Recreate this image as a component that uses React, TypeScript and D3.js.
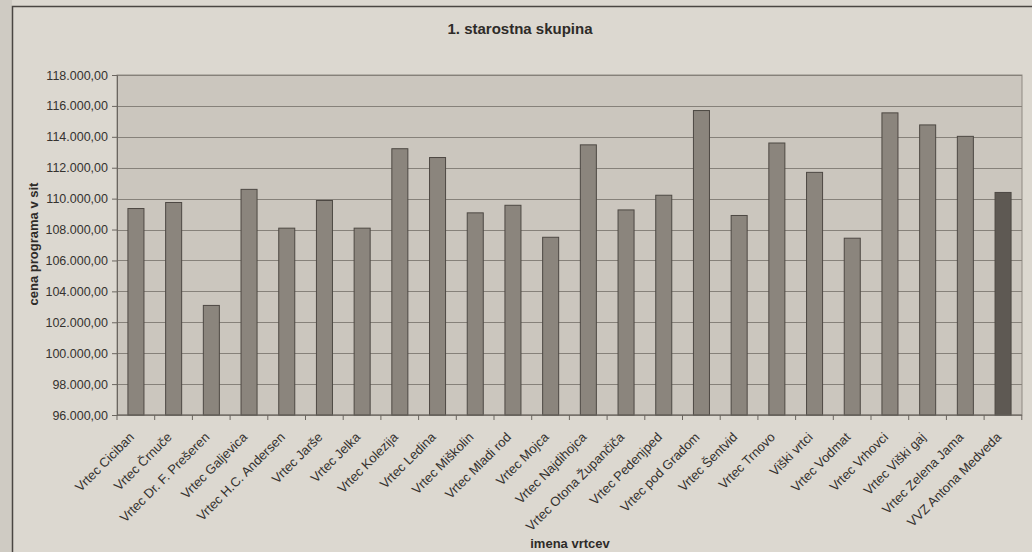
import React, { useEffect, useRef } from "react";
import * as d3 from "d3";

const vrtci = [
  "Vrtec Ciciban",
  "Vrtec Črnuče",
  "Vrtec Dr. F. Prešeren",
  "Vrtec Galjevica",
  "Vrtec H.C. Andersen",
  "Vrtec Jarše",
  "Vrtec Jelka",
  "Vrtec Kolezija",
  "Vrtec Ledina",
  "Vrtec Miškolin",
  "Vrtec Mladi rod",
  "Vrtec Mojca",
  "Vrtec Najdihojca",
  "Vrtec Otona Župančiča",
  "Vrtec Pedenjped",
  "Vrtec pod Gradom",
  "Vrtec Šentvid",
  "Vrtec Trnovo",
  "Viški vrtci",
  "Vrtec Vodmat",
  "Vrtec Vrhovci",
  "Vrtec Viški gaj",
  "Vrtec Zelena Jama",
  "VVZ Antona Medveda",
];

const cene = [
  109360, 109750, 103090, 110600, 108090, 109880, 108090, 113230, 112660,
  109080, 109570, 107500, 113480, 109270, 110220, 115700, 108910, 113600,
  111700, 107440, 115550, 114770, 114030, 110400,
];

const yTicks = [
  96000, 98000, 100000, 102000, 104000, 106000, 108000, 110000, 112000,
  114000, 116000, 118000,
];

const App = () => {
  const ref = useRef(null);

  useEffect(() => {
    const W = 1032;
    const H = 552;
    const margin = { top: 75, right: 10, bottom: 137, left: 117 };
    const width = W - margin.left - margin.right;
    const height = H - margin.top - margin.bottom;
    const font = "'Liberation Sans', Arial, sans-serif";

    const svg = d3.select(ref.current).attr("width", W).attr("height", H);
    svg.selectAll("*").remove();

    // paper + outer frame
    svg.append("rect").attr("width", W).attr("height", H).attr("fill", "#dcd8d0");
    svg.append("rect").attr("width", 12).attr("height", H).attr("fill", "#cfcbc3");
    svg.append("rect")
      .attr("x", 12.5)
      .attr("y", 6.5)
      .attr("width", W + 20)
      .attr("height", H + 20)
      .attr("fill", "none")
      .attr("stroke", "#4a4642")
      .attr("stroke-width", 1.5);

    const loc = d3.formatLocale({ decimal: ",", thousands: ".", grouping: [3], currency: ["", ""] });
    const fmt = loc.format(",.2f");

    const g = svg.append("g").attr("transform", `translate(${margin.left}, ${margin.top})`);

    const xScale = d3.scaleBand().range([0, width]).domain(vrtci).paddingInner(0.575).paddingOuter(0.29);
    const yScale = d3.scaleLinear().range([height, 0]).domain([96000, 118000]);

    g.append("rect")
      .attr("width", width)
      .attr("height", height)
      .attr("fill", "#cbc6be")
      .attr("stroke", "#8e8982");

    g.selectAll(".grid")
      .data(yTicks)
      .enter()
      .append("line")
      .attr("x1", 0)
      .attr("x2", width)
      .attr("y1", d => Math.round(yScale(d)) + 0.5)
      .attr("y2", d => Math.round(yScale(d)) + 0.5)
      .attr("stroke", "#86817a")
      .attr("stroke-width", 1);

    g.selectAll(".bar")
      .data(cene)
      .enter()
      .append("rect")
      .attr("x", (d, i) => xScale(vrtci[i]))
      .attr("y", d => yScale(d))
      .attr("width", xScale.bandwidth())
      .attr("height", d => height - yScale(d))
      .attr("fill", (d, i) => (i === cene.length - 1 ? "#5e5953" : "#8b857d"))
      .attr("stroke", "#4d4843")
      .attr("stroke-width", 1);

    // y axis
    const yAxis = g.append("g")
      .call(d3.axisLeft(yScale).tickValues(yTicks).tickFormat(d => fmt(d)).tickSize(5).tickPadding(4));
    yAxis.select(".domain").attr("stroke", "#6b6660");
    yAxis.selectAll(".tick line").attr("stroke", "#6b6660");
    yAxis.selectAll("text")
      .attr("font-family", font)
      .attr("font-size", 12.5)
      .attr("fill", "#35322f");

    // x axis
    const step = xScale.step();
    const xAxis = g.append("g").attr("transform", `translate(0, ${height})`);
    xAxis.append("line").attr("x1", 0).attr("x2", width).attr("stroke", "#6b6660");
    xAxis.selectAll(".tk")
      .data(d3.range(vrtci.length + 1))
      .enter()
      .append("line")
      .attr("x1", i => i * step)
      .attr("x2", i => i * step)
      .attr("y1", 0)
      .attr("y2", 5)
      .attr("stroke", "#6b6660");
    xAxis.selectAll(".lbl")
      .data(vrtci)
      .enter()
      .append("text")
      .attr("transform", d => `translate(${xScale(d) + xScale.bandwidth() / 2 - 1}, 23) rotate(-45)`)
      .attr("text-anchor", "end")
      .attr("font-family", font)
      .attr("font-size", 13)
      .attr("fill", "#35322f")
      .text(d => d);

    svg.append("text")
      .attr("x", 520)
      .attr("y", 34)
      .attr("text-anchor", "middle")
      .attr("font-family", font)
      .attr("font-weight", "bold")
      .attr("font-size", 15)
      .attr("fill", "#2e2b28")
      .text("1. starostna skupina");

    svg.append("text")
      .attr("transform", `translate(38, 244) rotate(-90)`)
      .attr("text-anchor", "middle")
      .attr("font-family", font)
      .attr("font-weight", "bold")
      .attr("font-size", 13)
      .attr("fill", "#2e2b28")
      .text("cena programa v sit");

    svg.append("text")
      .attr("x", 570)
      .attr("y", 548)
      .attr("text-anchor", "middle")
      .attr("font-family", font)
      .attr("font-weight", "bold")
      .attr("font-size", 13)
      .attr("fill", "#2e2b28")
      .text("imena vrtcev");
  }, []);

  return <svg ref={ref} style={{ position: "absolute", left: 0, top: 0 }}></svg>;
};

export default App;
